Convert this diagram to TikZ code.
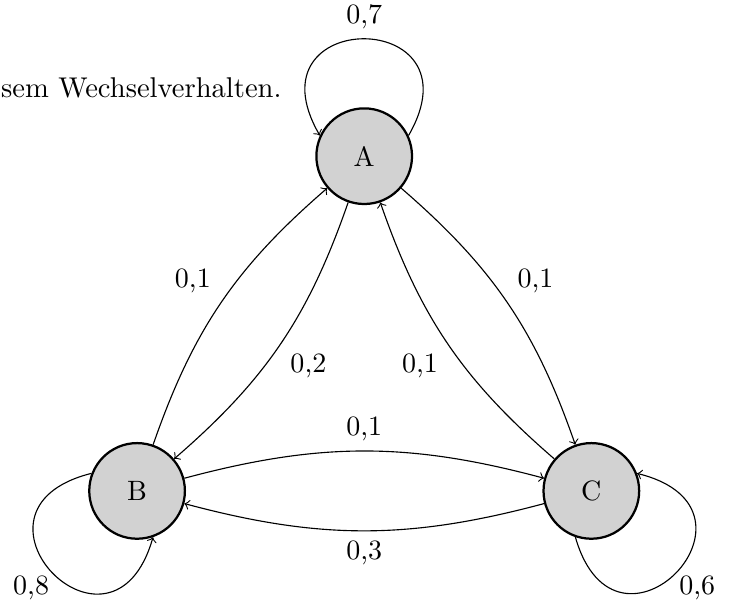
\documentclass[tikz,border=0pt]{standalone}
\usepackage{amsmath}
\usepackage{tikz}
\tikzset{zustand/.style={circle, draw, thick, fill=gray!35, minimum size=1.2cm}}

\begin{document}
\begin{tikzpicture}[>=to, auto]
\useasboundingbox (-1.72,-1.38) rectangle (7.44,6.16);
\node[anchor=base east, inner sep=0pt, font=\fontsize{10.2pt}{12.5pt}\selectfont] (satz) at (1.82,4.94) {sem Wechselverhalten.};
\node[zustand] (A) at (2.85,4.2) {A};
\node[zustand] (B) at (0,0) {B};
\node[zustand] (C) at (5.7,0) {C};
\path[->] (A) edge [bend left=15] node {0,1} (C);
\path[->] (C) edge [bend left=15] node {0,1} (A);
\path[->] (A) edge [bend left=15] node {0,2} (B);
\path[->] (B) edge [bend left=15] node {0,1} (A);
\path[->] (B) edge [bend left=15] node {0,1} (C);
\path[->] (C) edge [bend left=15] node {0,3} (B);
\path[->] (A.25) edge [out=60, in=120, looseness=4.3] node[above] {0,7} (A.155);
\path[->] (B.159) edge [out=194, in=254, looseness=4.3] node[below left, inner sep=1pt] {0,8} (B.289);
\path[->] (C.251) edge [out=286, in=346, looseness=4.3] node[below right, inner sep=1pt] {0,6} (C.21);
\end{tikzpicture}
\end{document}
